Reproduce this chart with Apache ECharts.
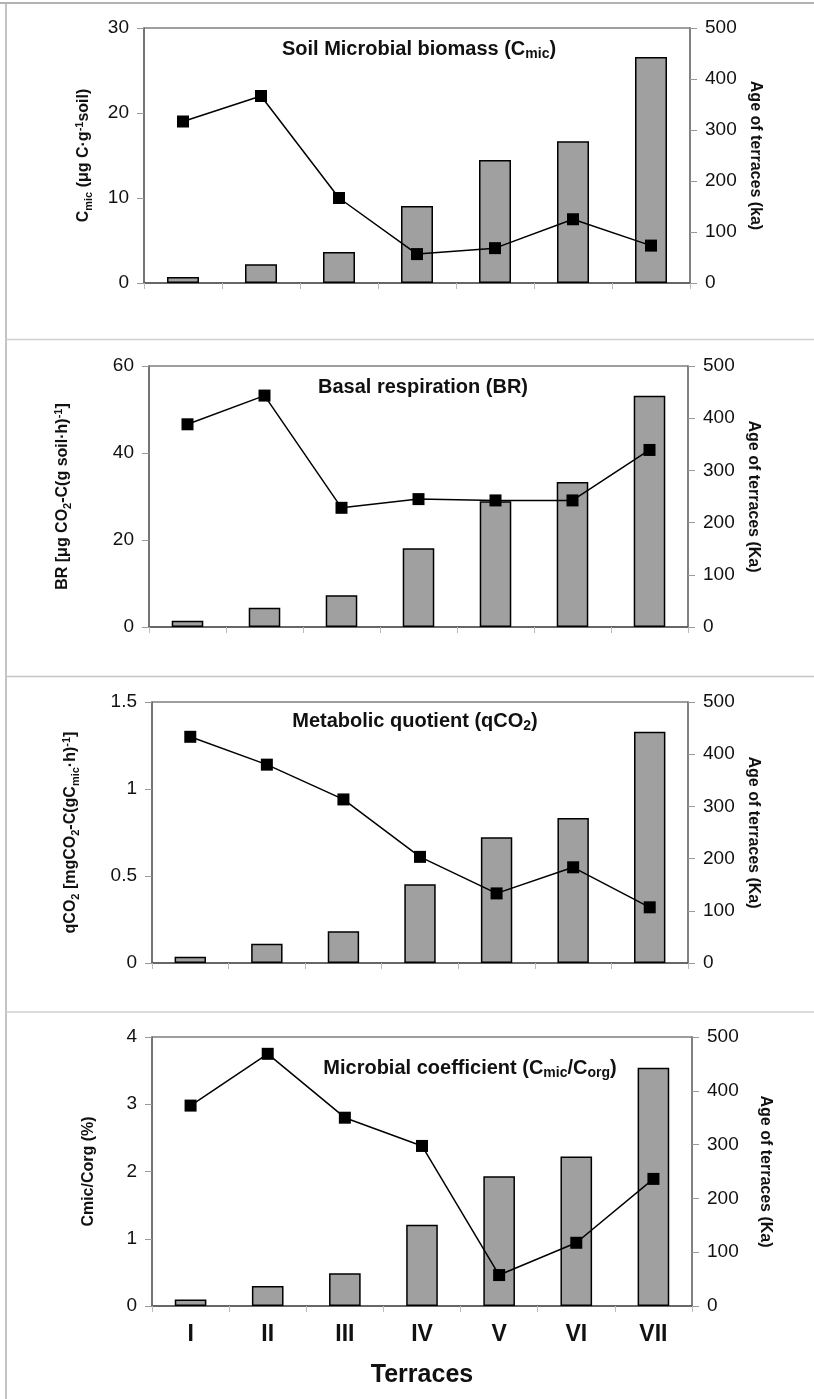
<!DOCTYPE html>
<html>
<head>
<meta charset="utf-8">
<script src="https://cdn.jsdelivr.net/npm/echarts@6/dist/echarts.min.js"></script>
<style>
  html, body { margin: 0; padding: 0; background: #fff; }
  #chart { width: 814px; height: 1399px; }
</style>
</head>
<body>
<div id="chart"></div>
<script>
// terraces and their age (bars, right axis)
const terraces = ['I', 'II', 'III', 'IV', 'V', 'VI', 'VII'];
const ageKa = [12, 37, 61, 151, 241, 278, 443];

// soil measures (lines, left axis)
const cmic = [19.0, 22.0, 10.0, 3.4, 4.1, 7.5, 4.4];
const basalResp = [46.6, 53.2, 27.4, 29.4, 29.1, 29.1, 40.7];
const qco2 = [1.30, 1.14, 0.94, 0.61, 0.40, 0.55, 0.32];
const cmicCorg = [2.98, 3.75, 2.80, 2.38, 0.46, 0.94, 1.89];

const leftMax = [30, 60, 1.5, 4];
const leftStep = [10, 20, 0.5, 1];
const ageMax = 500;
const ageStep = 100;

const titles = [
  'Soil Microbial biomass (C{sub|mic})',
  'Basal respiration (BR)',
  'Metabolic quotient (qCO{sub|2})',
  'Microbial coefficient (C{sub|mic}/C{sub|org})'
];
const leftNames = [
  'C{sub|mic} (μg C·g{sup|-1}soil)',
  'BR [μg CO{sub|2}-C(g soil·h){sup|-1}]',
  'qCO{sub|2} [mgCO{sub|2}-C(gC{sub|mic}·h){sup|-1}]',
  'Cmic/Corg (%)'
];
const rightNames = ['Age of terraces (ka)', 'Age of terraces (Ka)', 'Age of terraces (Ka)', 'Age of terraces (Ka)'];
const lineData = [cmic, basalResp, qco2, cmicCorg];

// layout of the four panels (pixels)
const grids = [
  { left: 144, right: 124, top: 28, height: 255 },
  { left: 149, right: 126, top: 366, height: 261 },
  { left: 152, right: 126, top: 702, height: 261 },
  { left: 152, right: 122, top: 1037, height: 269 }
];
const titlePos = [[419, 37], [423, 375], [415, 709], [470, 1056]];
const leftGap = [50, 76, 71, 53];
const rightGap = [56, 57, 54, 65];

const FONT = "'Liberation Sans', Arial, Helvetica, sans-serif";

function richFor(size) {
  const s = Math.round(size * 0.68);
  return {
    sub: { fontSize: s, fontWeight: 'bold', fontFamily: FONT, color: '#111', verticalAlign: 'bottom', lineHeight: s },
    sup: { fontSize: s, fontWeight: 'bold', fontFamily: FONT, color: '#111', verticalAlign: 'top', lineHeight: s }
  };
}

const chart = echarts.init(document.getElementById('chart'));

const option = {
  animation: false,
  backgroundColor: '#fff',
  title: titles.map((t, i) => ({
    text: t,
    left: titlePos[i][0],
    top: titlePos[i][1],
    textAlign: 'center',
    padding: 0,
    textStyle: {
      fontFamily: FONT, fontSize: 20, fontWeight: 'bold', color: '#111', lineHeight: 24,
      rich: richFor(20)
    }
  })),
  grid: grids.map(g => ({
    left: g.left, right: g.right, top: g.top, height: g.height,
    show: true, borderColor: '#7f7f7f', borderWidth: 1.5, backgroundColor: 'transparent'
  })),
  xAxis: grids.map((g, i) => ({
    type: 'category',
    gridIndex: i,
    data: terraces,
    boundaryGap: true,
    axisLine: { show: true, lineStyle: { color: '#555', width: 1.5 } },
    axisTick: { show: true, alignWithLabel: false, length: 6, lineStyle: { color: '#bbb', width: 1 } },
    axisLabel: {
      show: i === 3, margin: 17,
      fontFamily: FONT, fontSize: 23, fontWeight: 'bold', color: '#111'
    },
    name: i === 3 ? 'Terraces' : '',
    nameLocation: 'middle',
    nameGap: 57,
    nameTextStyle: { fontFamily: FONT, fontSize: 25, fontWeight: 'bold', color: '#111' }
  })),
  yAxis: grids.flatMap((g, i) => [
    {
      type: 'value',
      gridIndex: i,
      position: 'left',
      min: 0, max: leftMax[i], interval: leftStep[i],
      splitLine: { show: false },
      axisLine: { show: true, lineStyle: { color: '#666', width: 1.5 } },
      axisTick: { show: true, length: 7, lineStyle: { color: '#999' } },
      axisLabel: { margin: 15, fontFamily: FONT, fontSize: 19, color: '#111' },
      name: leftNames[i],
      nameLocation: 'middle',
      nameRotate: 90,
      nameGap: leftGap[i],
      nameTextStyle: {
        fontFamily: FONT, fontSize: 16, fontWeight: 'bold', color: '#111', lineHeight: 20,
        rich: richFor(16)
      }
    },
    {
      type: 'value',
      gridIndex: i,
      position: 'right',
      min: 0, max: ageMax, interval: ageStep,
      splitLine: { show: false },
      axisLine: { show: true, lineStyle: { color: '#777', width: 1.5 } },
      axisTick: { show: true, length: 7, lineStyle: { color: '#999' } },
      axisLabel: { margin: 15, fontFamily: FONT, fontSize: 19, color: '#111' },
      name: rightNames[i],
      nameLocation: 'middle',
      nameRotate: -90,
      nameGap: rightGap[i],
      nameTextStyle: { fontFamily: FONT, fontSize: 16, fontWeight: 'bold', color: '#111' }
    }
  ]),
  series: grids.flatMap((g, i) => [
    {
      type: 'bar',
      xAxisIndex: i,
      yAxisIndex: 2 * i + 1,
      data: ageKa,
      barWidth: '41%',
      itemStyle: { color: '#a0a0a0', borderColor: '#000', borderWidth: 1.5 },
      z: 2
    },
    {
      type: 'line',
      xAxisIndex: i,
      yAxisIndex: 2 * i,
      data: lineData[i],
      symbol: 'rect',
      symbolSize: 12,
      lineStyle: { color: '#000', width: 1.5 },
      itemStyle: { color: '#000' },
      z: 3
    }
  ]),
  graphic: [
    { type: 'line', shape: { x1: 0, y1: 3, x2: 814, y2: 3 }, style: { stroke: '#9a9a9a', lineWidth: 1.5 }, silent: true },
    { type: 'line', shape: { x1: 6, y1: 3, x2: 6, y2: 1399 }, style: { stroke: '#b0b0b0', lineWidth: 1.5 }, silent: true },
    { type: 'line', shape: { x1: 6, y1: 339.5, x2: 814, y2: 339.5 }, style: { stroke: '#d0d0d0', lineWidth: 1.5 }, silent: true },
    { type: 'line', shape: { x1: 6, y1: 676.5, x2: 814, y2: 676.5 }, style: { stroke: '#c4c4c4', lineWidth: 1.5 }, silent: true },
    { type: 'line', shape: { x1: 6, y1: 1012, x2: 814, y2: 1012 }, style: { stroke: '#d0d0d0', lineWidth: 1.5 }, silent: true }
  ]
};

chart.setOption(option);
</script>
</body>
</html>
